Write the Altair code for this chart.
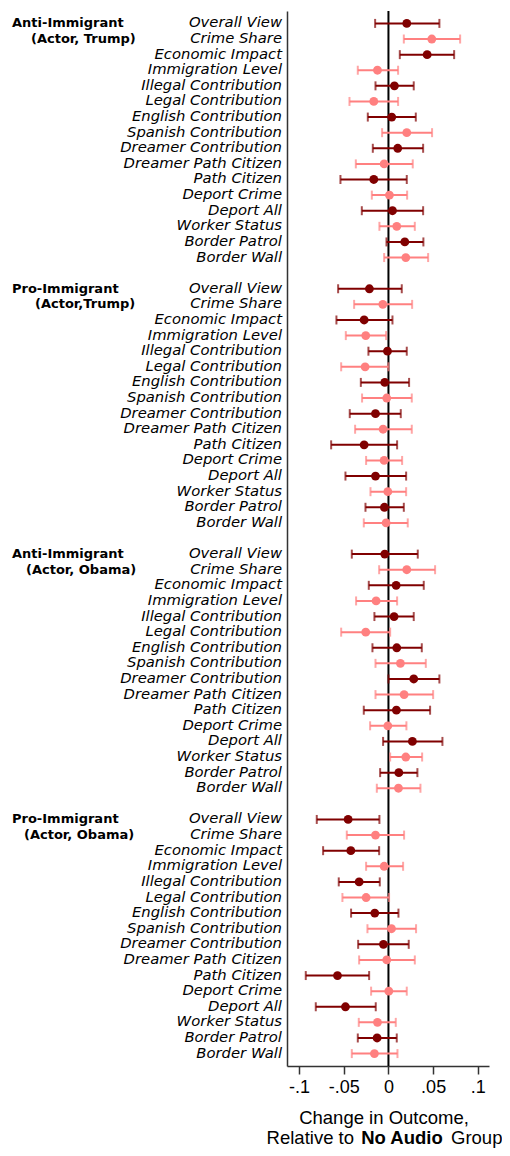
import altair as alt
import pandas as pd

items = ["Overall View", "Crime Share", "Economic Impact", "Immigration Level",
         "Illegal Contribution", "Legal Contribution", "English Contribution",
         "Spanish Contribution", "Dreamer Contribution", "Dreamer Path Citizen",
         "Path Citizen", "Deport Crime", "Deport All", "Worker Status",
         "Border Patrol", "Border Wall"]

group_line1 = ["Anti-Immigrant", "Pro-Immigrant", "Anti-Immigrant", "Pro-Immigrant"]
group_line2 = ["(Actor, Trump)", "(Actor,Trump)", "(Actor, Obama)", "(Actor, Obama)"]

est1 = [0.0205, 0.0485, 0.0433, -0.0123, 0.0067, -0.0164, 0.0037, 0.0205,
        0.0104, -0.0048, -0.0164, 0.0011, 0.0045, 0.0093, 0.0183, 0.0194]
lo1 = [-0.0149, 0.0172, 0.0127, -0.0343, -0.0145, -0.0436, -0.0231, -0.0071,
       -0.0175, -0.0365, -0.0537, -0.0186, -0.0298, -0.0101, -0.0022, -0.0048]
hi1 = [0.0570, 0.0802, 0.0735, 0.0108, 0.0283, 0.0108, 0.0306, 0.0488,
       0.0388, 0.0272, 0.0205, 0.0209, 0.0388, 0.0295, 0.0391, 0.0444]

est2 = [-0.0213, -0.0063, -0.0272, -0.0254, -0.0011, -0.0261, -0.0041, -0.0019,
        -0.0145, -0.0060, -0.0272, -0.0048, -0.0145, -0.0007, -0.0045, -0.0026]
lo2 = [-0.0563, -0.0384, -0.0582, -0.0477, -0.0224, -0.0529, -0.0309, -0.0295,
       -0.0433, -0.0373, -0.0641, -0.0250, -0.0481, -0.0201, -0.0257, -0.0276]
hi2 = [0.0149, 0.0265, 0.0045, -0.0026, 0.0205, 0.0000, 0.0231, 0.0261,
       0.0138, 0.0261, 0.0097, 0.0153, 0.0198, 0.0198, 0.0172, 0.0216]

est3 = [-0.0041, 0.0205, 0.0086, -0.0138, 0.0063, -0.0254, 0.0093, 0.0134,
        0.0283, 0.0175, 0.0089, -0.0007, 0.0268, 0.0194, 0.0116, 0.0112]
lo3 = [-0.0410, -0.0104, -0.0220, -0.0362, -0.0157, -0.0529, -0.0179, -0.0145,
       0.0000, -0.0145, -0.0276, -0.0205, -0.0060, 0.0019, -0.0093, -0.0130]
hi3 = [0.0328, 0.0522, 0.0395, 0.0097, 0.0283, 0.0019, 0.0373, 0.0418,
       0.0570, 0.0500, 0.0466, 0.0201, 0.0604, 0.0377, 0.0324, 0.0358]

est4 = [-0.0451, -0.0145, -0.0421, -0.0048, -0.0328, -0.0250, -0.0153, 0.0034,
        -0.0056, -0.0019, -0.0570, 0.0004, -0.0481, -0.0123, -0.0127, -0.0157]
lo4 = [-0.0802, -0.0466, -0.0731, -0.0250, -0.0556, -0.0515, -0.0418, -0.0235,
       -0.0339, -0.0328, -0.0925, -0.0194, -0.0813, -0.0332, -0.0343, -0.0410]
hi4 = [-0.0101, 0.0175, -0.0104, 0.0164, -0.0097, 0.0007, 0.0112, 0.0309,
       0.0227, 0.0295, -0.0216, 0.0205, -0.0142, 0.0082, 0.0093, 0.0101]

tick_values = [-0.1, -0.05, 0, 0.05, 0.1]
tick_labels = ["-.1", "-.05", "0", ".05", ".1"]

title_line1 = "Change in Outcome,"
title_pre = "Relative to"
title_bold = "No Audio"
title_post = "Group"

# ---- build table ----
ests = [est1, est2, est3, est4]
los = [lo1, lo2, lo3, lo4]
his = [hi1, hi2, hi3, hi4]
rows = []
for g in range(4):
    for i, item in enumerate(items):
        rows.append(dict(row=g * 17 + i, item=item, est=ests[g][i], lo=los[g][i],
                         hi=his[g][i], shade="dark" if i % 2 == 0 else "light"))
df = pd.DataFrame(rows)

x_scale = alt.Scale(domain=[-0.1135, 0.1125], nice=False, zero=False)
y_scale = alt.Scale(domain=[-0.795, 66.795], reverse=True, nice=False, zero=False)
color_scale = alt.Scale(domain=["dark", "light"], range=["#800000", "#FF8080"])
col = alt.Color("shade:N", scale=color_scale, legend=None)

label_expr = " : ".join(
    f"abs(datum.value - ({v})) < 1e-6 ? '{l}'" for v, l in zip(tick_values, tick_labels)
) + " : ''"

x_axis = alt.Axis(values=tick_values, labelExpr=label_expr, title=None, grid=False,
                  domainColor="#333333", domainWidth=1.5, tickColor="#333333",
                  tickWidth=1.5, tickSize=8, labelFont="Liberation Sans",
                  labelFontSize=18, labelColor="black", labelPadding=4)
y_axis = alt.Axis(labels=False, ticks=False, title=None, grid=False,
                  domainColor="#333333", domainWidth=1.5)

base = alt.Chart(df)

zero = alt.Chart(pd.DataFrame({"z": [0]})).mark_rule(color="black", strokeWidth=2).encode(
    x=alt.X("z:Q", scale=x_scale, axis=x_axis)
)
bars = base.mark_rule(strokeWidth=2).encode(
    x=alt.X("lo:Q", scale=x_scale, axis=x_axis), x2="hi:Q",
    y=alt.Y("row:Q", scale=y_scale, axis=y_axis), color=col)
cap_lo = base.mark_tick(orient="vertical", size=9, thickness=2).encode(
    x="lo:Q", y="row:Q", color=col)
cap_hi = base.mark_tick(orient="vertical", size=9, thickness=2).encode(
    x="hi:Q", y="row:Q", color=col)
points = base.mark_circle(size=78, opacity=1).encode(x="est:Q", y="row:Q", color=col)

labels = base.mark_text(align="right", baseline="middle", font="DejaVu Sans",
                        fontStyle="italic", fontSize=14.8, color="black").encode(
    x=alt.value(-5), y="row:Q", text="item:N")

g1 = pd.DataFrame({"row": [g * 17 for g in range(4)], "t": group_line1})
glab1 = alt.Chart(g1).mark_text(align="left", baseline="middle", font="DejaVu Sans",
                                fontWeight="bold", fontSize=13, color="black").encode(
    x=alt.value(-275), y="row:Q", text="t:N")

line2_x = [-256, -252, -261, -263]
glab2 = []
for g in range(4):
    d = pd.DataFrame({"row": [g * 17 + 1], "t": [group_line2[g]]})
    glab2.append(alt.Chart(d).mark_text(align="left", baseline="middle", font="DejaVu Sans",
                                        fontWeight="bold", fontSize=13, color="black").encode(
        x=alt.value(line2_x[g]), y="row:Q", text="t:N"))

tfont = dict(font="Liberation Sans", fontSize=18.5, color="black", baseline="middle")
t1 = alt.Chart(pd.DataFrame({"t": [title_line1]})).mark_text(align="center", **tfont).encode(
    x=alt.value(97), y=alt.value(1107), text="t:N")
t2a = alt.Chart(pd.DataFrame({"t": [title_pre]})).mark_text(align="right", **tfont).encode(
    x=alt.value(67), y=alt.value(1127), text="t:N")
t2b = alt.Chart(pd.DataFrame({"t": [title_bold]})).mark_text(align="center", fontWeight="bold", **tfont).encode(
    x=alt.value(115), y=alt.value(1127), text="t:N")
t2c = alt.Chart(pd.DataFrame({"t": [title_post]})).mark_text(align="left", **tfont).encode(
    x=alt.value(164), y=alt.value(1127), text="t:N")

chart = alt.layer(zero, bars, cap_lo, cap_hi, points, labels, glab1, *glab2,
                  t1, t2a, t2b, t2c).properties(
    width=202, height=1055,
    padding={"left": 279, "top": 3, "right": 13, "bottom": 82},
    autosize=alt.AutoSizeParams(type="none"),
    background="white",
).configure_view(stroke=None)

chart.save("out.html", embed_options={"renderer": "svg", "actions": False})
